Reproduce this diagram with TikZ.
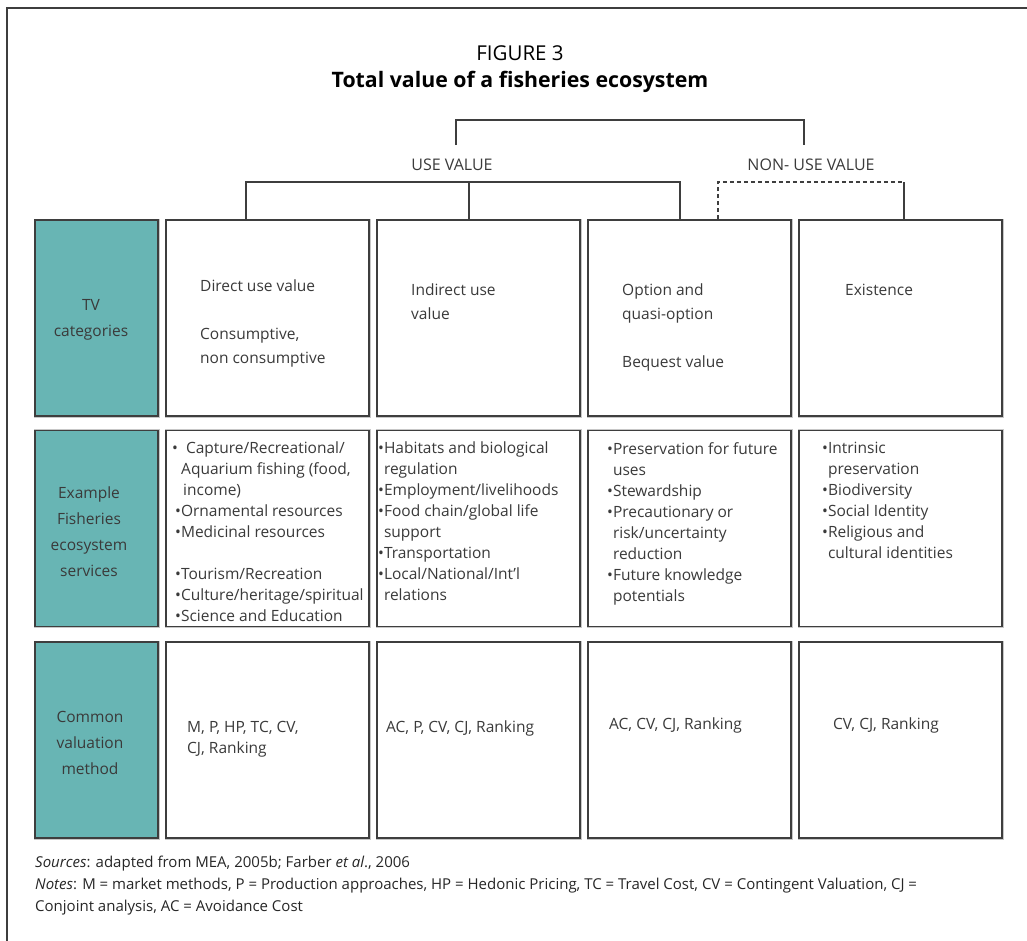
\documentclass[tikz,border=0pt]{standalone}
\usepackage{fontspec}
\setmainfont{Open Sans}

\definecolor{tealbox}{RGB}{104,181,180}
\definecolor{inkgray}{RGB}{58,58,58}
\definecolor{linegray}{RGB}{62,62,62}

\tikzset{
  cell/.style={draw=linegray, line width=1.6pt, preaction={draw=black!22, line width=3pt},
    fill=white, minimum width=203pt, minimum height=196pt, inner sep=0pt},
  headcell/.style={cell, fill=tealbox, minimum width=123pt},
  conn/.style={draw=linegray, line width=1.3pt},
  txt/.style={inner sep=0pt, text=inkgray, align=left, anchor=north west,
    font=\fontsize{15.5}{23.7}\selectfont},
  listtxt/.style={txt, font=\fontsize{15.5}{21}\selectfont},
  headtxt/.style={inner sep=0pt, text=inkgray, align=center,
    font=\fontsize{15.5}{26}\selectfont},
  grouptxt/.style={inner sep=0pt, text=inkgray, font=\fontsize{16}{19}\selectfont},
  foottxt/.style={inner sep=0pt, text=black!85, align=left, anchor=north west,
    font=\fontsize{15}{22}\selectfont}
}

\begin{document}
\begin{tikzpicture}[x=1pt, y=-1pt]
  \useasboundingbox (0,0) rectangle (1027,940);

  % frame
  \draw[linegray, line width=1.4pt] (7,960) -- (7,8) -- (1040,8);

  % title
  \node[font=\fontsize{20.5}{24}\selectfont] (fig) at (520,53) {FIGURE 3};
  \node[font=\bfseries\fontsize{21.3}{26}\selectfont] (title) at (520,82)
    {Total value of a fisheries ecosystem};

  % value groups
  \node[grouptxt] (use) at (452,165) {USE VALUE};
  \node[grouptxt] (nonuse) at (811,165) {NON- USE VALUE};

  % cells
  \foreach \r/\y in {1/318, 2/528.5, 3/740} {
    \node[headcell] (head\r) at (96.5,\y) {};
    \foreach \c/\x in {1/267.5, 2/478.5, 3/689.5, 4/900.5}
      \node[cell] (box\c\r) at (\x,\y) {};
  }

  % brackets
  \coordinate (tL) at (456,145);
  \coordinate (tR) at (804,145);
  \coordinate (uL) at (246,182);
  \coordinate (uM) at (469,182);
  \coordinate (uR) at (680,182);
  \coordinate (nL) at (718,182);
  \coordinate (nR) at (904,182);
  \draw[conn] (tL) -- ++(0,-25) -| (tR);
  \draw[conn] (uL |- box11.north) -- (uL) -- (uR) -- (uR |- box31.north);
  \draw[conn] (uM) -- (uM |- box21.north);
  \draw[conn, dash pattern=on 4pt off 3pt] (nL |- box31.north) -- (nL) -- (nR);
  \draw[conn] (nR) -- (nR |- box41.north);

  % row labels
  \node[headtxt] (lab1) at (91,320) {TV\\categories};
  \node[headtxt] (lab2) at (89,532) {Example\\Fisheries\\ecosystem\\services};
  \node[headtxt] (lab3) at (90,742.5) {Common\\valuation\\method};

  % TV categories
  \node[txt] (tv1) at (200,280) {Direct use value\\[23.7pt]Consumptive,\\non consumptive};
  \node[txt] (tv2) at (411,284) {Indirect use\\value};
  \node[txt] (tv3) at (622,284) {Option and\\quasi-option\\[23.7pt]Bequest value};
  \node[txt] (tv4) at (845,284) {Existence};

  % services
  \node[listtxt] (sv1) at (172,442) {\textbullet\hspace{8pt}Capture/Recreational/\\
    \hspace*{9pt}Aquarium fishing (food,\\
    \hspace*{11pt}income)\\
    \hspace*{3pt}\textbullet Ornamental resources\\
    \hspace*{3pt}\textbullet Medicinal resources\\[21pt]
    \hspace*{3pt}\textbullet Tourism/Recreation\\
    \hspace*{3pt}\textbullet Culture/heritage/spiritual\\
    \hspace*{3pt}\textbullet Science and Education};
  \node[listtxt] (sv2) at (378,442) {\textbullet Habitats and biological\\
    \hphantom{\textbullet}regulation\\
    \textbullet Employment/livelihoods\\
    \textbullet Food chain/global life\\
    \hphantom{\textbullet}support\\
    \textbullet Transportation\\
    \textbullet Local/National/Int'l\\
    \hphantom{\textbullet}relations};
  \node[listtxt] (sv3) at (607,442) {\textbullet Preservation for future\\
    \hphantom{\textbullet}uses\\
    \textbullet Stewardship\\
    \textbullet Precautionary or\\
    \hphantom{\textbullet}risk/uncertainty\\
    \hphantom{\textbullet}reduction\\
    \textbullet Future knowledge\\
    \hphantom{\textbullet}potentials};
  \node[listtxt] (sv4) at (822,442) {\textbullet Intrinsic\\
    \hphantom{\textbullet}preservation\\
    \textbullet Biodiversity\\
    \textbullet Social Identity\\
    \textbullet Religious and\\
    \hphantom{\textbullet}cultural identities};

  % valuation methods
  \node[listtxt] (vm1) at (187,721) {M, P, HP, TC, CV,\\CJ, Ranking};
  \node[listtxt] (vm2) at (386,721) {AC, P, CV, CJ, Ranking};
  \node[listtxt] (vm3) at (609,718) {AC, CV, CJ, Ranking};
  \node[listtxt] (vm4) at (833,718) {CV, CJ, Ranking};

  % footer
  \node[foottxt] (src) at (35,856)
    {\textit{Sources}: adapted from MEA, 2005b; Farber \textit{et al}., 2006};
  \node[foottxt] (notes) at (35,878)
    {\textit{Notes}: M = market methods, P = Production approaches, HP = Hedonic Pricing, TC = Travel Cost, CV = Contingent Valuation, CJ =\\
    Conjoint analysis, AC = Avoidance Cost};
\end{tikzpicture}
\end{document}
